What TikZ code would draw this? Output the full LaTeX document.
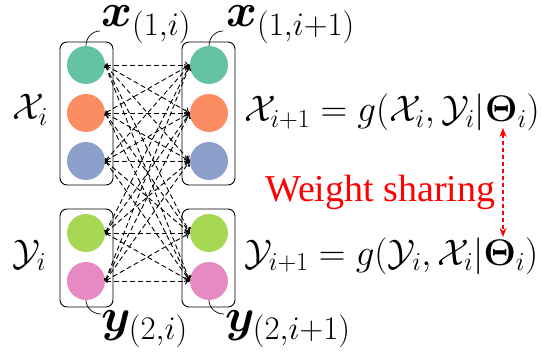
\RequirePackage{fix-cm}
\documentclass[tikz,border=0pt]{standalone}
\usepackage{amsmath,amssymb}
\usepackage{bm}
\usepackage{fontspec}
\newfontfamily\wsfont{Liberation Serif}
\usetikzlibrary{arrows.meta}
\definecolor{cA}{HTML}{66C2A5}
\definecolor{cB}{HTML}{FC8D62}
\definecolor{cC}{HTML}{8DA0CB}
\definecolor{cD}{HTML}{A6D854}
\definecolor{cE}{HTML}{E78AC3}
\tikzset{
  grp/.style={draw=black, line width=0.9pt, rounded corners=7pt},
  dot/.style={circle, inner sep=0pt, minimum size=38pt, fill=#1, draw=none},
  link/.style={line width=0.9pt, dash pattern=on 5pt off 3pt,
    arrows={To[length=2.5pt,width=4pt]-To[length=5pt,width=7pt]}},
  lead/.style={line width=0.7pt},
  bigmath/.style={font=\fontsize{37}{42}\selectfont, inner sep=0pt},
  lbl/.style={font=\fontsize{47}{52}\selectfont, inner sep=0pt},
  ws/.style={font=\fontsize{38}{42}\selectfont\wsfont, text=red, inner sep=0pt}
}
\begin{document}
\begin{tikzpicture}[x=1pt,y=-1pt]
\useasboundingbox (0,0) rectangle (543,358);
% group boxes
\draw[grp] (60,42) rectangle (113,185);
\draw[grp] (182,42) rectangle (235,185);
\draw[grp] (60,209) rectangle (113,307);
\draw[grp] (182,209) rectangle (235,307);
% circles
\node[dot=cA] (l1) at (86,65) {};
\node[dot=cB] (l2) at (86,113) {};
\node[dot=cC] (l3) at (86,161) {};
\node[dot=cD] (l4) at (86,233) {};
\node[dot=cE] (l5) at (86,281) {};
\node[dot=cA] (r1) at (209,65) {};
\node[dot=cB] (r2) at (209,113) {};
\node[dot=cC] (r3) at (209,161) {};
\node[dot=cD] (r4) at (209,233) {};
\node[dot=cE] (r5) at (209,281) {};
% links
\foreach \i in {1,...,5}{
  \foreach \j in {1,...,5}{
    \draw[link] (l\i.east) -- (r\j.west);
  }
}
% labels
\node[lbl, anchor=base west] (xl) at (101,27) {$\bm{x}_{(1,i)}$};
\node[lbl, anchor=base west] (xr) at (226,27) {$\bm{x}_{(1,i+1)}$};
\node[lbl, anchor=base west] (yl) at (101,331) {$\bm{y}_{(2,i)}$};
\node[lbl, anchor=base west] (yr) at (225,331) {$\bm{y}_{(2,i+1)}$};
\draw[lead] (l1.north) to[out=90,in=180] (100,31);
\draw[lead] (r1.north) to[out=90,in=180] (223,31);
\draw[lead] (l5.south) to[out=-90,in=180] (101,314);
\draw[lead] (r5.south) to[out=-90,in=180] (224,314);
\node[bigmath, anchor=base west] (xi) at (12,120) {$\mathcal{X}_i$};
\node[bigmath, anchor=base west] (yi) at (12,265) {$\mathcal{Y}_i$};
\node[bigmath, anchor=base west] (e1) at (244,122) {$\mathcal{X}_{i+1}=g(\mathcal{X}_i,\mathcal{Y}_i|\bm{\Theta}_i)$};
\node[bigmath, anchor=base west] (e2) at (244,265) {$\mathcal{Y}_{i+1}=g(\mathcal{Y}_i,\mathcal{X}_i|\bm{\Theta}_i)$};
\node[ws, anchor=base west] (w) at (265,201) {Weight sharing};
\coordinate (t1) at (503,128);
\coordinate (t2) at (503,237);
\draw[red, line width=1.2pt, dash pattern=on 4pt off 3pt, arrows={Stealth[length=9pt,width=7pt]-Stealth[length=9pt,width=7pt]}] (t1) -- (t2);
\end{tikzpicture}
\end{document}
